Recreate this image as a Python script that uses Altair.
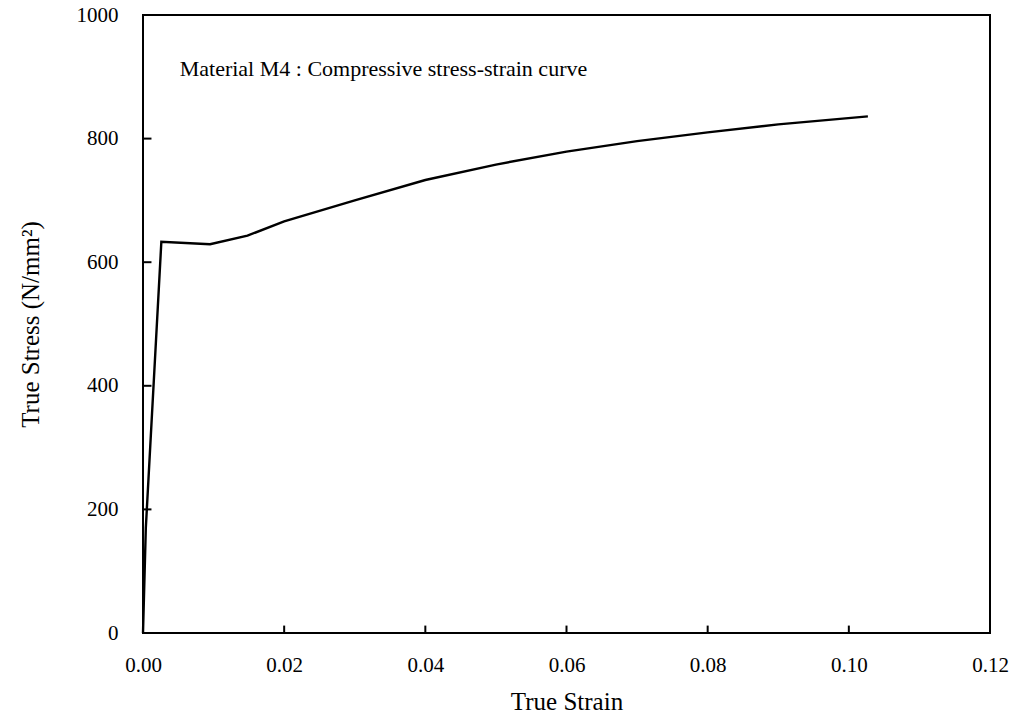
import altair as alt
import pandas as pd

# Curve
strain = [0.0, 0.0004, 0.0026, 0.0095, 0.0148, 0.020, 0.030, 0.040, 0.050,
          0.060, 0.070, 0.080, 0.090, 0.1027]
stress = [0, 170, 633, 629, 643, 666, 700, 733, 758,
          779, 796, 810, 823, 836]

x_ticks = [0.0, 0.02, 0.04, 0.06, 0.08, 0.10, 0.12]
y_ticks = [0, 200, 400, 600, 800, 1000]
x_inner_ticks = [0.02, 0.04, 0.06, 0.08, 0.10]
y_inner_ticks = [200, 400, 600, 800]

note_text = ["Material M4 : Compressive stress-strain curve"]
note_x = [0.0052]
note_y = [912]

FONT = "Liberation Serif"

curve = pd.DataFrame({"strain": strain, "stress": stress})

xscale = alt.Scale(domain=[0, 0.12], nice=False, zero=False)
yscale = alt.Scale(domain=[0, 1000], nice=False)

line = alt.Chart(curve).mark_line(color="black", strokeWidth=2.4).encode(
    x=alt.X("strain:Q", scale=xscale,
            axis=alt.Axis(title="True Strain", values=x_ticks, format=".2f",
                          tickSize=0, domain=False, grid=False,
                          labelFlush=False,
                          labelPadding=21, titlePadding=14,
                          labelFont=FONT, titleFont=FONT,
                          labelFontSize=21, titleFontSize=25,
                          titleFontWeight="normal",
                          labelColor="black", titleColor="black")),
    y=alt.Y("stress:Q", scale=yscale,
            axis=alt.Axis(title="True Stress (N/mm²)", values=y_ticks,
                          format="d",
                          tickSize=0, domain=False, grid=False,
                          labelPadding=25, titlePadding=33,
                          labelFont=FONT, titleFont=FONT,
                          labelFontSize=21, titleFontSize=25,
                          titleFontWeight="normal",
                          labelColor="black", titleColor="black")),
)

xt = pd.DataFrame({"t": x_inner_ticks, "y0": [0] * len(x_inner_ticks),
                   "y1": [12] * len(x_inner_ticks)})
xtick_layer = alt.Chart(xt).mark_rule(color="black", strokeWidth=2).encode(
    x=alt.X("t:Q", scale=xscale), y=alt.Y("y0:Q", scale=yscale),
    y2="y1:Q")

yt = pd.DataFrame({"t": y_inner_ticks, "x0": [0.0] * len(y_inner_ticks),
                   "x1": [0.0012] * len(y_inner_ticks)})
ytick_layer = alt.Chart(yt).mark_rule(color="black", strokeWidth=2).encode(
    y=alt.Y("t:Q", scale=yscale), x=alt.X("x0:Q", scale=xscale),
    x2="x1:Q")

note = alt.Chart(pd.DataFrame({"txt": note_text, "x": note_x, "y": note_y})).mark_text(
    align="left", baseline="middle", font=FONT, fontSize=22, color="black"
).encode(x=alt.X("x:Q", scale=xscale), y=alt.Y("y:Q", scale=yscale), text="txt:N")

chart = alt.layer(line, xtick_layer, ytick_layer, note).properties(
    width=847, height=618,
    autosize=alt.AutoSizeParams(type="none"),
    padding={"left": 143, "top": 15, "right": 26, "bottom": 88},
    background="white",
).configure_view(stroke="black", strokeWidth=2)

chart.save("out.html", embed_options={"renderer": "svg", "actions": False})
